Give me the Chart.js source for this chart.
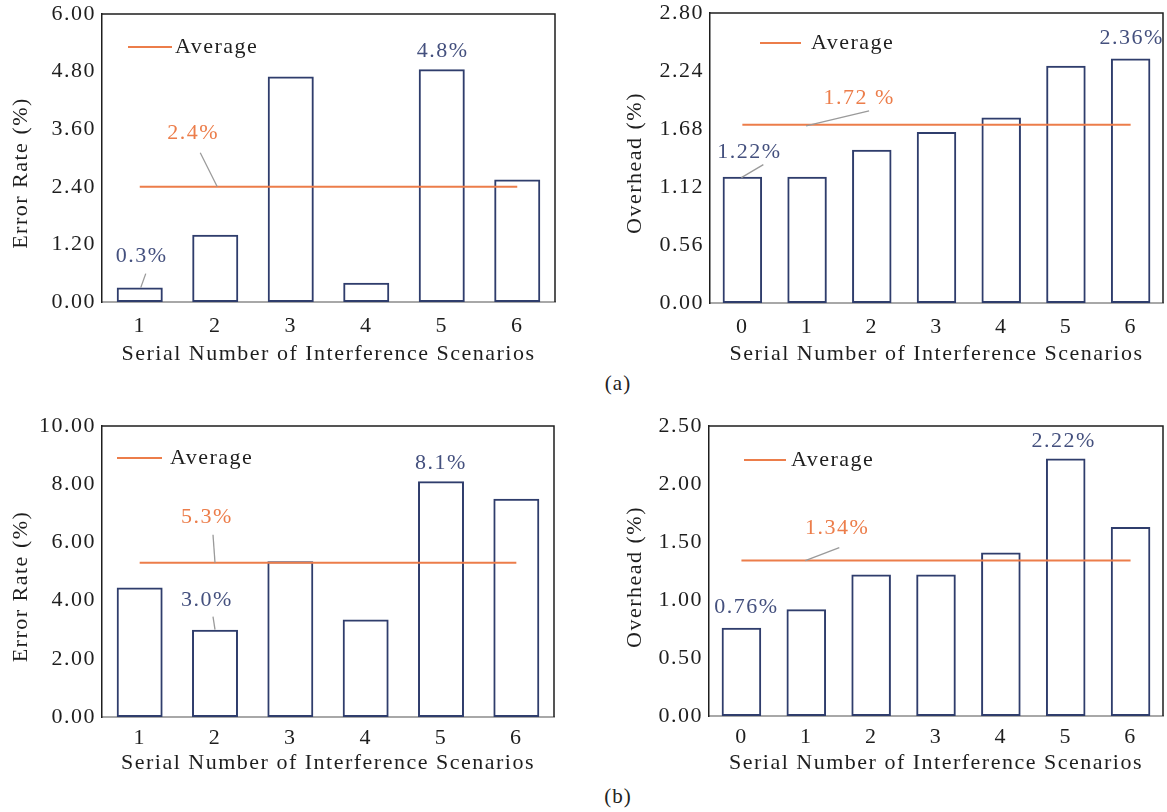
<!DOCTYPE html>
<html>
<head>
<meta charset="utf-8">
<script src="https://cdn.jsdelivr.net/npm/chart.js@4.4.0/dist/chart.umd.min.js"></script>
<style>
  body { margin: 0; background: #fff; width: 1167px; height: 812px; position: relative; overflow: hidden; font-family: "Liberation Serif", serif; }
  canvas { position: absolute; }
  .cap { position: absolute; font-size: 21px; letter-spacing: 1px; color: #222; transform: translate(-50%, -50%); }
</style>
</head>
<body>
<canvas id="c1" width="580" height="370" style="left:0;top:0"></canvas>
<canvas id="c2" width="587" height="370" style="left:580px;top:0"></canvas>
<canvas id="c3" width="580" height="380" style="left:0;top:400px"></canvas>
<canvas id="c4" width="587" height="380" style="left:580px;top:400px"></canvas>
<div class="cap" style="left:618px;top:383px">(a)</div>
<div class="cap" style="left:618px;top:796px">(b)</div>
<script>
// data
const scenariosErr = ['1', '2', '3', '4', '5', '6'];
const scenariosOvh = ['0', '1', '2', '3', '4', '5', '6'];

const errorRateA = [0.3, 1.4, 4.7, 0.4, 4.85, 2.55];
const errorAvgA = [2.4, 2.4, 2.4, 2.4, 2.4, 2.4];
const overheadA = [1.22, 1.22, 1.48, 1.65, 1.79, 2.29, 2.36];
const overheadAvgA = [1.72, 1.72, 1.72, 1.72, 1.72, 1.72, 1.72];

const errorRateB = [4.45, 3.0, 5.35, 3.35, 8.1, 7.5];
const errorAvgB = [5.3, 5.3, 5.3, 5.3, 5.3, 5.3];
const overheadB = [0.76, 0.92, 1.22, 1.22, 1.41, 2.22, 1.63];
const overheadAvgB = [1.34, 1.34, 1.34, 1.34, 1.34, 1.34, 1.34];

const errorTicksA = [0, 1.2, 2.4, 3.6, 4.8, 6.0];
const overheadTicksA = [0, 0.56, 1.12, 1.68, 2.24, 2.8];
const errorTicksB = [0, 2, 4, 6, 8, 10];
const overheadTicksB = [0, 0.5, 1, 1.5, 2, 2.5];

const NAVY = '#2f3d6c';
const NAVY_TXT = '#44507e';
const ORANGE = '#ec7d4a';
const GREY = '#9a9a9a';
const INK = '#1e1e1e';
const FONT = { family: '"Liberation Serif", serif', size: 22 };
const SPACING = '1.5px';

// wider letter spacing to get closer to the Computer Modern look
const spacing = {
  id: 'spacing',
  beforeUpdate(chart) { chart.ctx.letterSpacing = SPACING; },
  beforeDraw(chart) { chart.ctx.letterSpacing = SPACING; }
};

// frame, y title, legend and callouts drawn on top of the chart
const decor = {
  id: 'decor',
  afterDatasetsDraw(chart, args, opts) {
    const { ctx, chartArea: a, scales: { x, y } } = chart;
    ctx.save();
    ctx.strokeStyle = INK;
    ctx.lineWidth = 1.5;
    ctx.beginPath();
    ctx.moveTo(a.left, a.top);
    ctx.lineTo(a.right, a.top);
    ctx.lineTo(a.right, a.bottom);
    ctx.stroke();

    ctx.font = FONT.size + 'px ' + FONT.family;
    ctx.textBaseline = 'middle';

    // y axis title
    ctx.save();
    ctx.translate(opts.yTitle.x, (a.top + a.bottom) / 2 + opts.yTitle.dy);
    ctx.rotate(-Math.PI / 2);
    ctx.textAlign = 'center';
    ctx.fillStyle = INK;
    ctx.fillText(opts.yTitle.text, 0, 0);
    ctx.restore();

    const lg = opts.legend;
    ctx.strokeStyle = ORANGE;
    ctx.lineWidth = 2;
    ctx.beginPath();
    ctx.moveTo(a.left + lg.x1, a.top + lg.y);
    ctx.lineTo(a.left + lg.x2, a.top + lg.y);
    ctx.stroke();
    ctx.textAlign = 'left';
    ctx.fillStyle = INK;
    ctx.fillText(chart.data.datasets[0].label, a.left + lg.tx, a.top + lg.y);

    opts.notes.forEach(n => {
      const ds = chart.data.datasets[n.ds];
      const px = x.getPixelForValue(n.i);
      const py = y.getPixelForValue(ds.data[n.i]);
      if (n.lead) {
        ctx.strokeStyle = GREY;
        ctx.lineWidth = 1.3;
        ctx.beginPath();
        ctx.moveTo(px + n.lead[0], py + n.lead[1]);
        ctx.lineTo(px + n.lead[2], py + n.lead[3]);
        ctx.stroke();
      }
      ctx.fillStyle = n.ds === 0 ? ORANGE : NAVY_TXT;
      ctx.textAlign = 'center';
      ctx.fillText(n.text, px + n.dx, py + n.dy);
    });
    ctx.restore();
  }
};

function makeChart(id, labels, bars, avg, ticks, yTitle, L) {
  new Chart(document.getElementById(id), {
    type: 'bar',
    data: {
      labels: labels,
      datasets: [
        { type: 'line', label: 'Average', data: avg, borderColor: ORANGE, borderWidth: 2, pointRadius: 0, order: 0 },
        { label: yTitle, data: bars, backgroundColor: 'rgba(255,255,255,0)', borderColor: NAVY, borderWidth: 2,
          borderSkipped: false, barPercentage: 0.61, categoryPercentage: 1, order: 1 }
      ]
    },
    options: {
      responsive: false,
      animation: false,
      layout: { padding: { top: L.top, right: L.right, left: 0, bottom: 0 } },
      plugins: {
        legend: { display: false },
        tooltip: { enabled: false },
        decor: { legend: L.legend, notes: L.notes, yTitle: { text: yTitle, x: L.yTitleX, dy: L.yTitleDy } }
      },
      scales: {
        x: {
          offset: true,
          grid: { display: false, drawTicks: false },
          border: { color: '#a8a8a8', width: 2 },
          ticks: { padding: L.tickPad, color: INK, font: FONT },
          title: { display: true, text: 'Serial Number of Interference Scenarios', color: INK, font: FONT,
                   padding: { top: 0, bottom: L.xTitlePad } },
          afterFit: s => { s.height = L.bottom; s.paddingLeft = 0; s.paddingRight = 0; }
        },
        y: {
          min: 0,
          max: ticks[ticks.length - 1],
          afterBuildTicks: s => { s.ticks = ticks.map(v => ({ value: v })); },
          afterFit: s => { s.width = L.left; s.paddingTop = 0; s.paddingBottom = 0; },
          grid: { display: false, drawTicks: false },
          border: { color: INK, width: 1.5 },
          ticks: { padding: 6, color: INK, font: FONT, callback: v => Number(v).toFixed(2) },
          title: { display: false }
        }
      }
    },
    plugins: [spacing, decor]
  });
}

makeChart('c1', scenariosErr, errorRateA, errorAvgA, errorTicksA, 'Error Rate (%)', {
  left: 102, top: 14, right: 25, bottom: 68, tickPad: 11, xTitlePad: 3, yTitleX: 21, yTitleDy: 15,
  legend: { x1: 26, x2: 70, tx: 73, y: 33 },
  notes: [
    { ds: 1, i: 0, text: '0.3%', dx: 2, dy: -31, lead: [1, 0, 6, -14] },
    { ds: 0, i: 1, text: '2.4%', dx: -22, dy: -54, lead: [2, 0, -15, -34] },
    { ds: 1, i: 4, text: '4.8%', dx: 1, dy: -18 }
  ]
});

makeChart('c2', scenariosOvh, overheadA, overheadAvgA, overheadTicksA, 'Overhead (%)', {
  left: 130, top: 13, right: 4, bottom: 67, tickPad: 11, xTitlePad: 3, yTitleX: 55, yTitleDy: 5,
  legend: { x1: 50, x2: 91, tx: 101, y: 30 },
  notes: [
    { ds: 1, i: 0, text: '1.22%', dx: 7, dy: -24, lead: [-1, 1, 21, -12] },
    { ds: 0, i: 1, text: '1.72 %', dx: 52, dy: -27, lead: [-1, 1, 62, -14] },
    { ds: 1, i: 6, text: '2.36%', dx: 1, dy: -20 }
  ]
});

makeChart('c3', scenariosErr, errorRateB, errorAvgB, errorTicksB, 'Error Rate (%)', {
  left: 102, top: 26, right: 26, bottom: 63, tickPad: 8, xTitlePad: 4, yTitleX: 21, yTitleDy: 15,
  legend: { x1: 15, x2: 60, tx: 68, y: 32 },
  notes: [
    { ds: 0, i: 1, text: '5.3%', dx: -8, dy: -46, lead: [0, 0, -2, -28] },
    { ds: 1, i: 1, text: '3.0%', dx: -8, dy: -29, lead: [0, 0, -2, -13] },
    { ds: 1, i: 4, text: '8.1%', dx: 0, dy: -18 }
  ]
});

makeChart('c4', scenariosOvh, overheadB, overheadAvgB, overheadTicksB, 'Overhead (%)', {
  left: 129, top: 26, right: 4, bottom: 64, tickPad: 8, xTitlePad: 4, yTitleX: 55, yTitleDy: 6,
  legend: { x1: 35, x2: 77, tx: 82, y: 34 },
  notes: [
    { ds: 1, i: 0, text: '0.76%', dx: 5, dy: -21 },
    { ds: 0, i: 1, text: '1.34%', dx: 31, dy: -32, lead: [-1, 0, 33, -13] },
    { ds: 1, i: 5, text: '2.22%', dx: -2, dy: -17 }
  ]
});
</script>
</body>
</html>
